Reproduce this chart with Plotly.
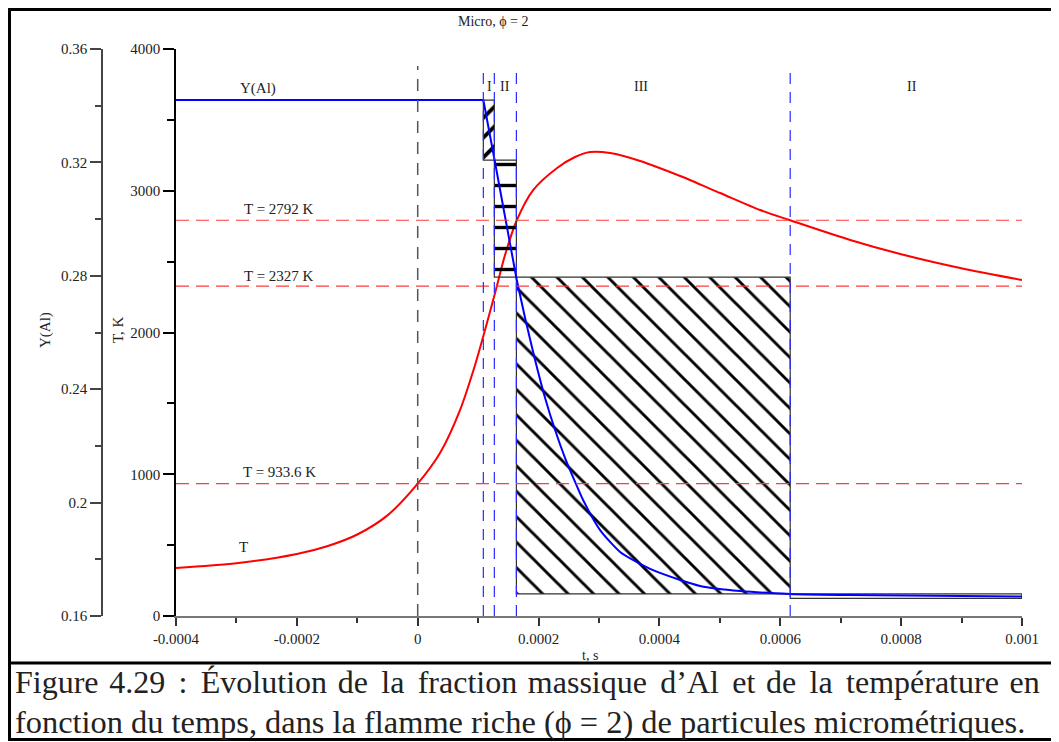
import plotly.graph_objects as go

# ---------------- data ----------------
t_T = [-4.0e-4, -3.0e-4, -2.0e-4, -1.5e-4, -1.0e-4, -0.5e-4, 0.0, 0.369e-4,
       0.700e-4, 0.949e-4, 1.114e-4, 1.280e-4, 1.445e-4, 1.639e-4, 1.910e-4, 2.307e-4,
       2.604e-4, 2.853e-4, 3.184e-4, 3.681e-4, 4.343e-4, 5.005e-4, 5.667e-4, 6.164e-4,
       7.157e-4, 7.985e-4, 8.978e-4, 1.0e-3]
T_vals = [339, 372, 437, 492, 575, 710, 933.6, 1150,
          1453, 1771, 2018, 2279, 2547, 2792, 3005, 3161,
          3238, 3273, 3266, 3210, 3104, 2984, 2864, 2792,
          2653, 2554, 2455, 2370]

t_Y = [-4.0e-4, 1.086e-4, 1.268e-4, 1.639e-4, 1.777e-4, 1.942e-4, 2.108e-4, 2.273e-4,
       2.439e-4, 2.604e-4, 2.737e-4, 3.018e-4, 3.349e-4, 3.846e-4, 4.343e-4, 4.674e-4,
       5.336e-4, 6.164e-4, 7.157e-4, 1.0e-3]
Y_vals = [0.342, 0.342, 0.3213, 0.2785, 0.2651, 0.2503, 0.2369, 0.2256,
          0.2157, 0.2073, 0.2009, 0.1903, 0.1826, 0.1766, 0.1727, 0.1706,
          0.1688, 0.1678, 0.1674, 0.1669]
n_drop = 4  # flat part + near-linear drop through phases I and II

T_ref = [2792, 2327, 933.6]
T_ref_labels = ["T = 2792 K", "T = 2327 K", "T = 933.6 K"]

t_phase = [1.086e-4, 1.268e-4, 1.633e-4, 6.164e-4, 1.0e-3]
Y_phase = [0.342, 0.3208, 0.2795, 0.1678, 0.1662]
phase_names = ["I", "II", "III", "II"]
phase_hatch = ["/", "-", "\\", ""]

x_ticks = [-0.0004, -0.0002, 0, 0.0002, 0.0004, 0.0006, 0.0008, 0.001]
x_tick_text = ["-0.0004", "-0.0002", "0", "0.0002", "0.0004", "0.0006", "0.0008", "0.001"]
T_ticks = [0, 1000, 2000, 3000, 4000]
Y_ticks = [0.16, 0.2, 0.24, 0.28, 0.32, 0.36]
Y_tick_text = ["0.16", "0.2", "0.24", "0.28", "0.32", "0.36"]

caption1_words = ["Figure", "4.29", ":", "Évolution", "de", "la", "fraction", "massique",
                  "d’Al", "et", "de", "la", "température", "en"]
caption2 = "fonction du temps, dans la flamme riche (ϕ = 2) de particules micrométriques."

# ---------------- layout helpers ----------------
OFF = 8                      # page body margin
W, H = 1059 - OFF, 742 - OFF
ML, MR, MT, MB = 60, 37, 41, 126
PW, PH = W - ML - MR, H - MT - MB
def px_x(px):
    return (px - OFF - ML) / PW
def px_y(py):
    return (H - MB - (py - OFF)) / PH

SERIF = "Liberation Serif, Times New Roman, serif"
TXT = "#222"

fig = go.Figure()

# hatched phase boxes
hatch_size = {"/": 14, "-": 21, "\\": 18}
hatch_sol = {"/": 0.28, "-": 0.16, "\\": 0.16}
for i, name in enumerate(phase_names):
    x0, x1 = t_phase[i], t_phase[i + 1]
    ya, yb = Y_phase[i], Y_phase[i + 1]
    kw = {}
    if phase_hatch[i]:
        kw["fillpattern"] = dict(shape=phase_hatch[i], fgcolor="black", fgopacity=1,
                                 bgcolor="rgba(0,0,0,0)", size=hatch_size[phase_hatch[i]],
                                 solidity=hatch_sol[phase_hatch[i]])
    fig.add_trace(go.Scatter(
        x=[x0, x1, x1, x0, x0], y=[ya, ya, yb, yb, ya], mode="lines",
        fill="toself", fillcolor="rgba(0,0,0,0)", line=dict(color="#333", width=1.2),
        yaxis="y2", showlegend=False, hoverinfo="skip", **kw))

# temperature curve
fig.add_trace(go.Scatter(x=t_T, y=T_vals, mode="lines",
                         line=dict(color="#ff0000", width=2, shape="spline", smoothing=0.8),
                         yaxis="y", showlegend=False, name="T"))
# Y(Al) curve: flat + drop (straight), then smooth decay
fig.add_trace(go.Scatter(x=t_Y[:n_drop], y=Y_vals[:n_drop], mode="lines",
                         line=dict(color="#0000ff", width=2),
                         yaxis="y2", showlegend=False, name="Y(Al)"))
fig.add_trace(go.Scatter(x=t_Y[n_drop - 1:], y=Y_vals[n_drop - 1:], mode="lines",
                         line=dict(color="#0000ff", width=2, shape="spline", smoothing=0.6),
                         yaxis="y2", showlegend=False, name="Y(Al)"))

shapes = []
for Tr in T_ref:
    shapes.append(dict(type="line", xref="x", yref="y", x0=-0.0004, x1=0.001, y0=Tr, y1=Tr,
                       line=dict(color="#ff3b3b", width=1.2, dash="13px,7px"), layer="above"))
shapes.append(dict(type="line", xref="x", yref="y", x0=0, x1=0, y0=0, y1=3880,
                   line=dict(color="#555", width=1.5, dash="12px,9px"), layer="above"))
for tb in t_phase[:-1]:
    shapes.append(dict(type="line", xref="x", yref="y", x0=tb, x1=tb, y0=0, y1=3880,
                       line=dict(color="#2a2aff", width=1.2, dash="11px,8px"), layer="above"))
# frame
shapes.append(dict(type="rect", xref="paper", yref="paper", x0=px_x(9.5), x1=px_x(1055),
                   y0=px_y(739.5), y1=px_y(9.5), line=dict(color="black", width=3)))
shapes.append(dict(type="line", xref="paper", yref="paper", x0=px_x(9.5), x1=px_x(1055),
                   y0=px_y(663), y1=px_y(663), line=dict(color="black", width=3)))

ann = []
def text(s, px, py, size=15, angle=0, xanchor="center", yanchor="middle"):
    ann.append(dict(text=s, x=px_x(px), y=px_y(py), xref="paper", yref="paper",
                    showarrow=False, xanchor=xanchor, yanchor=yanchor, textangle=angle,
                    font=dict(family=SERIF, size=size, color=TXT)))

text("Micro, ϕ = 2", 493, 22, 14)
text("Y(Al)", 258, 88, 15)
text("T", 243, 547, 15)
for lab, py in zip(T_ref_labels, [209, 276, 472]):
    text(lab, 279, py, 15)
for name, px in zip(phase_names, [489, 505, 641, 912]):
    text(name, px, 86, 14)
text("Y(Al)", 45, 330, 15, angle=-90)
text("T, K", 118, 330, 15, angle=-90)
text("t, s", 590, 655, 14)
# justified first caption line: widen word gaps with hair spaces
gaps = ["\u200a\u200a" if i % 3 else "\u200a" for i in range(len(caption1_words) - 1)]
caption1 = caption1_words[0] + "".join(" " + g + w for g, w in zip(gaps, caption1_words[1:]))
text(caption1, 13, 702, 32, xanchor="left", yanchor="bottom")
text(caption2, 13, 702, 32.4, xanchor="left", yanchor="top")

fig.update_layout(
    width=W, height=H, margin=dict(l=ML, r=MR, t=MT, b=MB, pad=0),
    paper_bgcolor="white", plot_bgcolor="white",
    shapes=shapes, annotations=ann,
    xaxis=dict(domain=[px_x(176), 1], range=[-0.0004, 0.001], tickvals=x_ticks, ticktext=x_tick_text,
               showgrid=False, zeroline=False, showline=True, linecolor="#777", linewidth=2,
               ticks="outside", ticklen=8, tickcolor="#333", tickwidth=1.5,
               minor=dict(tickvals=[-0.0003, -0.0001, 0.0001, 0.0003, 0.0005, 0.0007, 0.0009],
                          ticks="outside", ticklen=5, tickcolor="#333", tickwidth=1.5),
               tickfont=dict(family=SERIF, size=15, color=TXT)),
    yaxis=dict(range=[0, 4000], tickvals=T_ticks, showgrid=False, zeroline=False,
               showline=True, linecolor="black", linewidth=1.5,
               ticks="outside", ticklen=11, tickcolor="black", tickwidth=1.5,
               minor=dict(dtick=500, ticks="outside", ticklen=7, tickcolor="black", tickwidth=1.5),
               tickfont=dict(family=SERIF, size=15, color=TXT)),
    yaxis2=dict(range=[0.16, 0.36], tickvals=Y_ticks, ticktext=Y_tick_text, overlaying="y",
                anchor="free", position=px_x(102), side="left", showgrid=False, zeroline=False,
                showline=True, linecolor="#444", linewidth=1.5,
                ticks="outside", ticklen=11, tickcolor="#444", tickwidth=1.5,
                minor=dict(tickvals=[0.18, 0.22, 0.26, 0.30, 0.34], ticks="outside", ticklen=6,
                           tickcolor="#444", tickwidth=1.5),
                tickfont=dict(family=SERIF, size=15, color=TXT)),
)

fig.write_html("out.html")
